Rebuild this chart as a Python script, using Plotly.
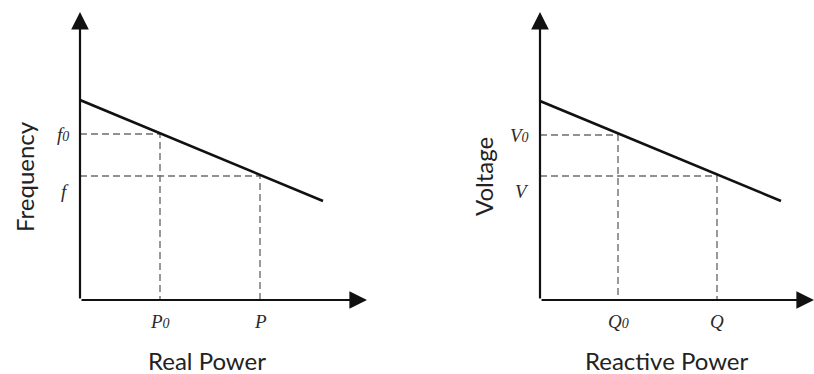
import plotly.graph_objects as go

W, H = 814, 374

# ---- data (arbitrary units) ----
p_droop_x = [0.0, 24.3]        # real power along droop line
p_droop_y = [20.0, 9.9]        # frequency along droop line
p_points = [8.0, 18.0]         # P0, P
f_points = [16.6, 12.4]        # f0, f
SUB = '<span style="font-size:14px"><i>0</i></span>'
p_labels = ["<i>P</i>" + SUB, "<i>P</i>"]
f_labels = ["<i>f</i>" + SUB, "<i>f</i>"]

q_droop_x = [0.0, 24.1]
q_droop_y = [19.9, 9.9]
q_points = [7.8, 17.7]          # Q0, Q
v_points = [16.5, 12.4]         # V0, V
q_labels = ["<i>Q</i>" + SUB, "<i>Q</i>"]
v_labels = ["<i>V</i>" + SUB, "<i>V</i>"]

x1_max, x2_max, y_max = 28.7, 27.4, 28.8

fig = go.Figure()

def panel(xa, ya, dx, dy, xp, yp):
    # dashed guides
    for xv, yv in zip(xp, yp):
        fig.add_trace(go.Scatter(x=[0, xv, xv], y=[yv, yv, 0], mode="lines",
                                 line=dict(color="#6e6e6e", width=1.4, dash="7px,4px"),
                                 xaxis=xa, yaxis=ya, showlegend=False, hoverinfo="skip"))
    # droop line
    fig.add_trace(go.Scatter(x=dx, y=dy, mode="lines",
                             line=dict(color="#111111", width=2.6),
                             xaxis=xa, yaxis=ya, showlegend=False, hoverinfo="skip"))

panel("x", "y", p_droop_x, p_droop_y, p_points, f_points)
panel("x2", "y2", q_droop_x, q_droop_y, q_points, v_points)

ann = []
def axes_arrows(xr, yr, xmax):
    for (hx, hy) in [(0, y_max), (xmax, 0)]:
        ann.append(dict(x=hx, y=hy, ax=0, ay=0, xref=xr, yref=yr, axref=xr, ayref=yr,
                        text="", showarrow=True, arrowhead=2, arrowsize=1.6,
                        arrowwidth=2.2, arrowcolor="#111111"))

axes_arrows("x", "y", x1_max)
axes_arrows("x2", "y2", x2_max)

tick_font = dict(family="Liberation Serif, Times New Roman, serif", size=19, color="#2a2a2a")

def tick_labels(xr, yr, xp, xl, yp, yl):
    for xv, t in zip(xp, xl):
        ann.append(dict(x=xv, y=0, xref=xr, yref=yr, text=t, showarrow=False,
                        xanchor="center", yanchor="middle", yshift=-21, font=tick_font))
    shifts = [0, -15]
    for yv, t, s in zip(yp, yl, shifts):
        ann.append(dict(x=0, y=yv, xref=xr, yref=yr, text=t, showarrow=False,
                        xanchor="right", yanchor="middle", xshift=-9, yshift=s, font=tick_font))

tick_labels("x", "y", p_points, p_labels, f_points, f_labels)
tick_labels("x2", "y2", q_points, q_labels, v_points, v_labels)

title_font = dict(family="Lato, Open Sans, sans-serif", size=24, color="#222222")
ann.append(dict(x=207 / W, y=1 - 360 / H, xref="paper", yref="paper", text="Real Power",
                showarrow=False, xanchor="center", yanchor="middle", font=title_font))
ann.append(dict(x=667 / W, y=1 - 360 / H, xref="paper", yref="paper", text="Reactive Power",
                showarrow=False, xanchor="center", yanchor="middle", font=title_font))
ann.append(dict(x=24 / W, y=1 - 177 / H, xref="paper", yref="paper", text="Frequency",
                textangle=-90, showarrow=False, xanchor="center", yanchor="middle", font=title_font))
ann.append(dict(x=483 / W, y=1 - 177 / H, xref="paper", yref="paper", text="Voltage",
                textangle=-90, showarrow=False, xanchor="center", yanchor="middle", font=title_font))

hidden = dict(visible=False, showgrid=False, zeroline=False)
fig.update_layout(
    width=W, height=H, margin=dict(l=0, r=0, t=0, b=0),
    paper_bgcolor="white", plot_bgcolor="rgba(0,0,0,0)",
    xaxis=dict(domain=[80 / W, 367 / W], range=[0, x1_max], **hidden),
    yaxis=dict(domain=[1 - 300 / H, 1 - 12 / H], range=[0, y_max], **hidden),
    xaxis2=dict(domain=[540 / W, 1.0], range=[0, x2_max], anchor="y2", **hidden),
    yaxis2=dict(domain=[1 - 300 / H, 1 - 12 / H], range=[0, y_max], anchor="x2", **hidden),
    annotations=ann,
)

fig.write_html("out.html", config={"displayModeBar": False},
               post_script="document.body.style.margin='0';document.body.style.overflow='hidden';")
